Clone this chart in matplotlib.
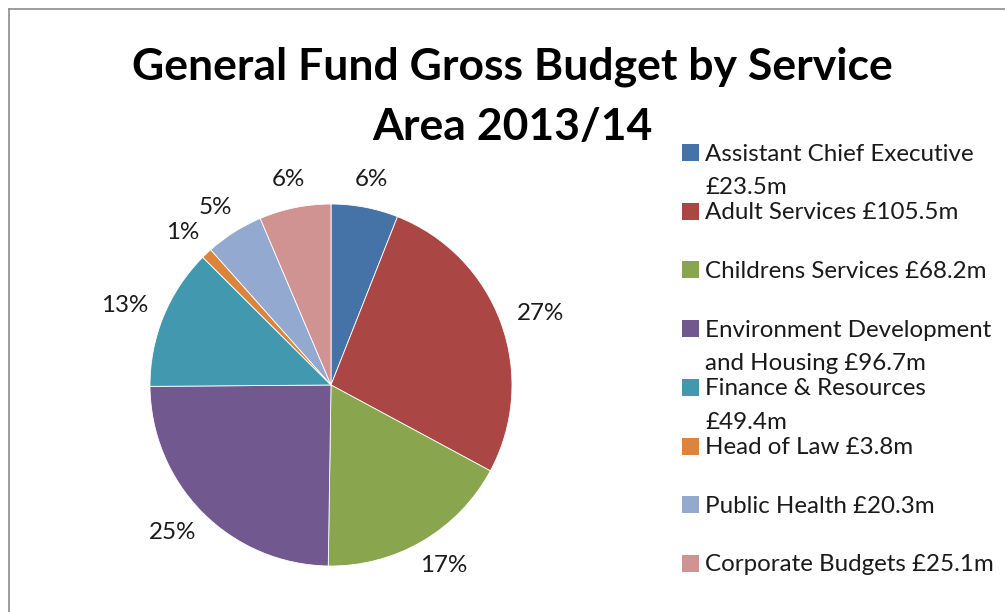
import numpy as np
import matplotlib.pyplot as plt
from matplotlib.patches import Rectangle
from matplotlib.lines import Line2D

services = [
    "Assistant Chief Executive\n£23.5m",
    "Adult Services £105.5m",
    "Childrens Services £68.2m",
    "Environment Development\nand Housing £96.7m",
    "Finance & Resources\n£49.4m",
    "Head of Law £3.8m",
    "Public Health £20.3m",
    "Corporate Budgets £25.1m",
]
budget = [23.5, 105.5, 68.2, 96.7, 49.4, 3.8, 20.3, 25.1]
colors = ["#4572A7", "#AA4643", "#89A54E", "#71588F",
          "#4198AF", "#DB843D", "#93A9CF", "#D19392"]

plt.rcParams["font.family"] = ["Lato", "DejaVu Sans"]

W, H = 1005, 612
fig = plt.figure(figsize=(W / 100, H / 100), dpi=100)

# chart border (only the left and top edges are in frame)
fig.add_artist(Line2D([8.5 / W, 8.5 / W], [0, 1 - 8.5 / H], color="#8c8c8c", lw=1.2))
fig.add_artist(Line2D([8.5 / W, 1], [1 - 8.5 / H, 1 - 8.5 / H], color="#8c8c8c", lw=1.2))

# pie centred at (331, 385) px, radius 181 px
cx, cy, r = 331, 385, 181
ax = fig.add_axes([(cx - r) / W, (H - cy - r) / H, 2 * r / W, 2 * r / H])
wedges, texts = ax.pie(
    budget, colors=colors, startangle=90, counterclock=False,
    labels=[f"{v / sum(budget) * 100:.0f}%" for v in budget],
    labeldistance=1.1, radius=1,
    wedgeprops=dict(edgecolor="white", linewidth=0.6),
    textprops=dict(fontsize=17.4, color="#1a1a1a"),
)
ax.set_xlim(-1, 1)
ax.set_ylim(-1, 1)
ax.set_aspect("auto")

# "outside end" labels: the box sits just outside the rim
renderer = fig.canvas.get_renderer()
gap = 18 / r
for w, t in zip(wedges, texts):
    th = np.deg2rad((w.theta1 + w.theta2) / 2)
    bb = t.get_window_extent(renderer)
    hw, hh = bb.width / 2 / r, bb.height / 2 / r
    t.set_ha("center")
    t.set_va("center")
    t.set_position(((1 + gap) * np.cos(th) + hw * np.cos(th),
                    (1 + gap) * np.sin(th) + hh * np.sin(th)))

fig.text(512 / W, 1 - 97 / H, "General Fund Gross Budget by Service\nArea 2013/14",
         ha="center", va="center", fontsize=32, fontweight="bold",
         linespacing=1.6, color="black")

# legend, drawn slot by slot like the spreadsheet legend
y0, step = 152.5, 58.7
for i, (lab, col) in enumerate(zip(services, colors)):
    yc = y0 + i * step
    fig.add_artist(Rectangle((682 / W, 1 - (yc + 8.5) / H), 17 / W, 17 / H,
                             facecolor=col, edgecolor="none"))
    fig.text(705 / W, 1 - (yc - 9) / H, lab, ha="left", va="top",
             fontsize=17.4, color="#1a1a1a", linespacing=1.72)

fig.savefig("out.png", dpi=100)
